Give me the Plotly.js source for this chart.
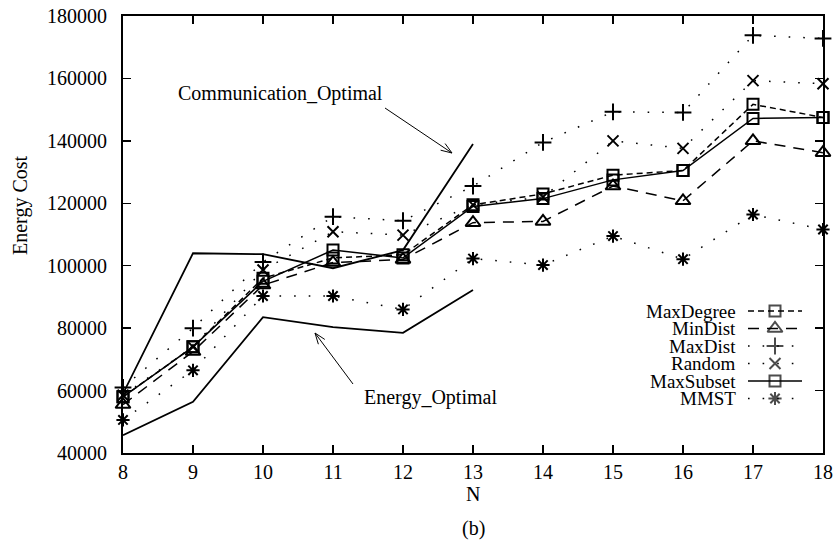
<!DOCTYPE html>
<html><head><meta charset="utf-8">
<script src="https://cdn.plot.ly/plotly-3.0.1.min.js"></script>
<style>html,body{margin:0;padding:0;background:#fff}</style>
</head><body><div id="chart" style="width:835px;height:551px"></div>
<script>
// ---- data ----
const N = [8, 9, 10, 11, 12, 13, 14, 15, 16, 17, 18];
const maxDegree = [58000, 74000, 96000, 102500, 103500, 119500, 123000, 129000, 130500, 151700, 147500];
const minDist   = [55500, 72500, 93800, 101000, 102000, 113800, 114200, 125500, 120800, 140000, 136200];
const maxDist   = [61000, 80000, 101200, 115700, 114400, 125500, 139500, 149300, 149100, 173800, 172800];
const randomSel = [58500, 74000, 98600, 110900, 109800, 119500, 122000, 140000, 137600, 159300, 158300];
const maxSubset = [58000, 74000, 95000, 105000, 102500, 119000, 121500, 127500, 130500, 147200, 147500];
const mmst      = [50600, 66500, 90300, 90300, 86000, 102300, 100200, 109500, 102100, 116400, 111600];
const optN = [8, 9, 10, 11, 12, 13];
const commOptimal   = [59000, 104000, 103700, 99200, 105000, 139000];
const energyOptimal = [45700, 56400, 83500, 80300, 78500, 92200];
const seriesNames = ['MaxDegree', 'MinDist', 'MaxDist', 'Random', 'MaxSubset', 'MMST'];
const xTicks = [8, 9, 10, 11, 12, 13, 14, 15, 16, 17, 18];
const yTicks = [40000, 60000, 80000, 100000, 120000, 140000, 160000, 180000];

// ---- layout geometry (pixels) ----
const W = 835, H = 551, L = 123, R = 823, T = 16, B = 453;
const px = x => (x - L) / (R - L);
const py = y => (B - y) / (B - T);
const FONT = 'Liberation Serif, Times New Roman, serif';
const DOTS = '1.6px,13px';

const styles = [
  {dash: '6px,4px',  symbol: 'square-open',       size: 11},
  {dash: '11px,8px', symbol: 'triangle-up-open',  size: 13},
  {dash: DOTS,       symbol: 'cross-thin-open',   size: 12},
  {dash: DOTS,       symbol: 'x-thin-open',       size: 11},
  {dash: 'solid',    symbol: 'square-open',       size: 11},
  {dash: DOTS,       symbol: 'asterisk-open',     size: 11}
];
const seriesValues = [maxDegree, minDist, maxDist, randomSel, maxSubset, mmst];

const traces = [];
traces.push({x: optN, y: commOptimal, mode: 'lines', line: {color: '#000', width: 1.8}, showlegend: false, hoverinfo: 'skip'});
traces.push({x: optN, y: energyOptimal, mode: 'lines', line: {color: '#000', width: 1.8}, showlegend: false, hoverinfo: 'skip'});
seriesValues.forEach((vals, i) => {
  const s = styles[i];
  traces.push({
    x: N, y: vals, mode: 'lines+markers', name: seriesNames[i], showlegend: false,
    cliponaxis: false,
    line: {color: '#000', width: 1.5, dash: s.dash},
    marker: {symbol: s.symbol, size: s.size, color: '#000', line: {color: '#000', width: 2}}
  });
});

// ---- custom gnuplot-style legend (pixel overlay axes) ----
const legRows = [311, 328.5, 346, 363.5, 381, 398.5];
const annotations = [];
const legFont = {family: FONT, size: 19, color: '#000'};
seriesNames.forEach((name, i) => {
  const s = styles[i];
  const yy = legRows[i];
  traces.push({x: [748, 775, 802], y: [yy, yy, yy], xaxis: 'x2', yaxis: 'y2', mode: 'lines+markers',
    showlegend: false, hoverinfo: 'skip', cliponaxis: false,
    line: {color: '#000', width: 1.5, dash: s.dash},
    marker: {symbol: s.symbol, size: [0, s.size, 0], color: '#000', line: {color: '#000', width: 2}}});
  annotations.push({xref: 'paper', yref: 'paper', x: px(738), y: py(yy), xanchor: 'right', yanchor: 'middle',
    text: name, showarrow: false, font: legFont});
});

const txtFont = {family: FONT, size: 20, color: '#000'};
annotations.push({xref: 'paper', yref: 'paper', x: px(385), y: py(94), xanchor: 'right', yanchor: 'middle',
  text: 'Communication_Optimal', showarrow: false, font: txtFont});
annotations.push({xref: 'paper', yref: 'paper', x: px(362), y: py(397), xanchor: 'left', yanchor: 'middle',
  text: 'Energy_Optimal', showarrow: false, font: txtFont});
annotations.push({xref: 'paper', yref: 'paper', x: px(20), y: py(205), xanchor: 'center', yanchor: 'middle', textangle: -90,
  text: 'Energy Cost', showarrow: false, font: txtFont});
annotations.push({xref: 'paper', yref: 'paper', x: px(473), y: py(494), xanchor: 'center', yanchor: 'middle',
  text: 'N', showarrow: false, font: txtFont});
annotations.push({xref: 'paper', yref: 'paper', x: px(473), y: py(528), xanchor: 'center', yanchor: 'middle',
  text: '(b)', showarrow: false, font: txtFont});

function arrow(tx, ty, hx, hy) {
  const dx = hx - tx, dy = hy - ty, len = Math.hypot(dx, dy);
  const ux = dx / len, uy = dy / len, nx = -uy, ny = ux;
  const a = 11, b = 4;
  const w1 = [hx - a * ux + b * nx, hy - a * uy + b * ny];
  const w2 = [hx - a * ux - b * nx, hy - a * uy - b * ny];
  return [
    {type: 'line', xref: 'x2', yref: 'y2', x0: tx, y0: ty, x1: hx, y1: hy, line: {color: '#000', width: 1}},
    {type: 'path', xref: 'x2', yref: 'y2', path: `M${w1[0]},${w1[1]} L${hx},${hy} L${w2[0]},${w2[1]}`, line: {color: '#000', width: 1}}
  ];
}
const shapes = [...arrow(385, 108, 452, 153), ...arrow(353, 384, 315, 333)];

const axisFont = {family: FONT, size: 20, color: '#000'};
const layout = {
  width: W, height: H, autosize: false,
  margin: {l: L, r: W - R, t: T, b: H - B, pad: 0},
  paper_bgcolor: '#fff', plot_bgcolor: '#fff',
  showlegend: false,
  xaxis: {range: [8, 18], tickvals: xTicks, ticktext: xTicks.map(String), ticks: 'inside', ticklen: 8, tickwidth: 1.5,
    tickcolor: '#000', showline: true, linewidth: 2, linecolor: '#000', mirror: 'allticks', showgrid: false, zeroline: false,
    tickfont: axisFont, ticklabelstandoff: 0},
  yaxis: {range: [40000, 180000], tickvals: yTicks, ticktext: yTicks.map(String), ticks: 'inside', ticklen: 8, tickwidth: 1.5,
    tickcolor: '#000', showline: true, linewidth: 2, linecolor: '#000', mirror: 'allticks', showgrid: false, zeroline: false,
    tickfont: axisFont, ticklabelstandoff: 10},
  xaxis2: {overlaying: 'x', range: [L, R], visible: false, fixedrange: true},
  yaxis2: {overlaying: 'y', range: [B, T], visible: false, fixedrange: true},
  annotations: annotations,
  shapes: shapes
};
Plotly.newPlot('chart', traces, layout, {staticPlot: true, displayModeBar: false});
</script>
</body></html>
